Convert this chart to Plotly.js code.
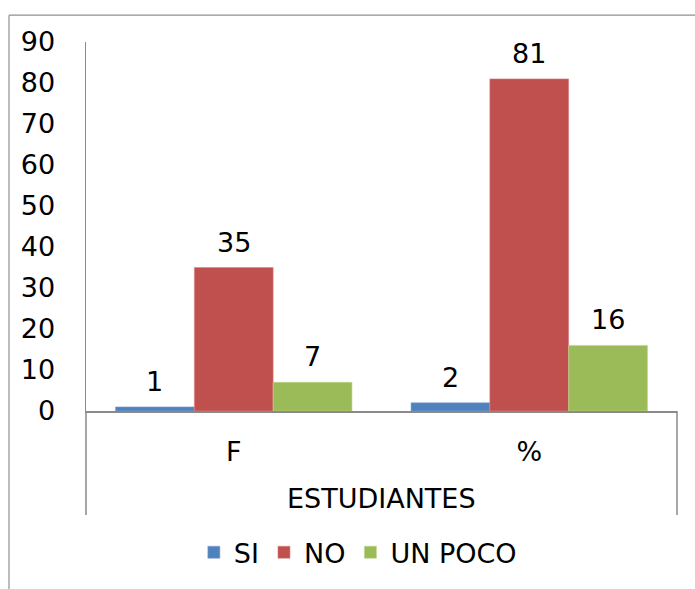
<!DOCTYPE html>
<html>
<head>
<meta charset="utf-8">
<script src="https://cdn.plot.ly/plotly-3.0.1.min.js"></script>
<style>
  html, body { margin: 0; padding: 0; background: #ffffff; }
  #chart { width: 695px; height: 589px; }
</style>
</head>
<body>
<div id="chart"></div>
<script>
// Survey answers per group of students
const categories = ['F', '%'];
const seriesNames = ['SI', 'NO', 'UN POCO'];
const siValues = [1, 2];
const noValues = [35, 81];
const unPocoValues = [7, 16];
const yTicks = [0, 10, 20, 30, 40, 50, 60, 70, 80, 90];
const groupTitle = 'ESTUDIANTES';

const seriesValues = [siValues, noValues, unPocoValues];
const colors = ['#4F81BD', '#C0504D', '#9BBB59'];
const edgeColors = ['#7FA3D3', '#D88583', '#BCD58C'];
const FONT = 'DejaVu Sans, Verdana, sans-serif';
const FS = 27;
const axisGrey = '#8a8a8a';

const traces = seriesValues.map((vals, i) => ({
  type: 'bar',
  name: seriesNames[i],
  x: categories,
  y: vals,
  marker: { color: colors[i], line: { color: edgeColors[i], width: 0.6 } },
  hoverinfo: 'skip'
}));

// value labels above each bar (bar width is 79px, so neighbours sit 79px apart)
const barStep = 79;
const annotations = [];
seriesValues.forEach((vals, i) => {
  vals.forEach((v, j) => {
    annotations.push({
      x: categories[j], y: v, xref: 'x', yref: 'y',
      xshift: (i - 1) * barStep, yshift: 8,
      yanchor: 'bottom', showarrow: false,
      text: String(v),
      font: { family: FONT, size: FS, color: '#000000' }
    });
  });
});
annotations.push({
  x: 0.5, y: -0.237, xref: 'paper', yref: 'paper',
  yanchor: 'middle', showarrow: false,
  text: groupTitle,
  font: { family: FONT, size: FS, color: '#000000' }
});

const line = { color: axisGrey, width: 1.5 };
const frame = { color: '#8f8f8f', width: 1.2 };
const shapes = [
  // category-level separators below the axis
  { type: 'line', xref: 'paper', yref: 'paper', x0: 0, x1: 0, y0: 0, y1: -0.282, line: line },
  { type: 'line', xref: 'paper', yref: 'paper', x0: 1, x1: 1, y0: 0, y1: -0.282, line: line },
  // chart frame
  { type: 'line', xref: 'paper', yref: 'paper', x0: -0.1303, x1: 1.2, y0: 1.0726, y1: 1.0726, line: frame },
  { type: 'line', xref: 'paper', yref: 'paper', x0: -0.1303, x1: -0.1303, y0: 1.0726, y1: -0.6, line: frame }
];

const layout = {
  width: 695, height: 589,
  margin: { l: 86, r: 18, t: 42, b: 175 },
  paper_bgcolor: '#ffffff', plot_bgcolor: '#ffffff',
  barmode: 'group', bargap: 0.2, bargroupgap: 0,
  font: { family: FONT, size: FS, color: '#000000' },
  showlegend: true,
  legend: {
    orientation: 'h', x: 0.46, xanchor: 'center', y: -0.384, yanchor: 'middle',
    font: { family: FONT, size: FS, color: '#000000' },
    itemwidth: 30, traceorder: 'normal'
  },
  xaxis: {
    type: 'category', showgrid: false, zeroline: false,
    showline: true, linecolor: axisGrey, linewidth: 1.5,
    ticks: '', ticklabelstandoff: 16,
    tickfont: { family: FONT, size: FS, color: '#000000' },
    fixedrange: true
  },
  yaxis: {
    range: [0, 90], tickvals: yTicks, showgrid: false, zeroline: false,
    showline: true, linecolor: axisGrey, linewidth: 1.5,
    ticks: '', ticklabelstandoff: 24,
    tickfont: { family: FONT, size: FS, color: '#000000' },
    fixedrange: true
  },
  annotations: annotations,
  shapes: shapes
};

Plotly.newPlot('chart', traces, layout, { displayModeBar: false, staticPlot: true });
</script>
</body>
</html>
